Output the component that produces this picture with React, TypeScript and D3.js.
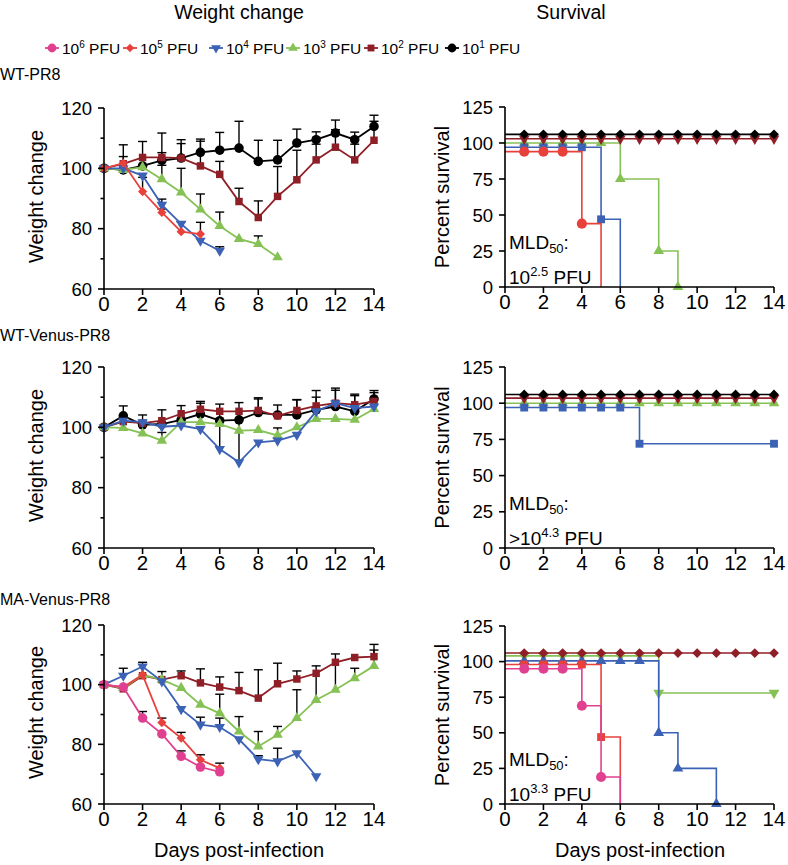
import React from 'react';
import * as d3 from 'd3';

const FONT = '"Liberation Sans", Arial, Helvetica, sans-serif';

// doses as powers of ten (PFU)
const doseExp = [6, 5, 4, 3, 2, 1];
const doseColor: Record<number, string> = {
  6: '#e0408f', 5: '#e8413c', 4: '#3b62b5', 3: '#86c155', 2: '#8f1f26', 1: '#000000',
};
const weightShape: Record<number, string> = {
  6: 'circle', 5: 'diamond', 4: 'down', 3: 'up', 2: 'square', 1: 'circle',
};

const rowNames = ['WT-PR8', 'WT-Venus-PR8', 'MA-Venus-PR8'];
const mldPrefix = ['', '>', ''];
const mldExp = ['2.5', '4.3', '3.3'];

const weightTicks = [60, 80, 100, 120];
const weightMinor = [70, 90, 110];
const survTicks = [0, 25, 50, 75, 100, 125];
const dayTicks = [0, 2, 4, 6, 8, 10, 12, 14];

// ---- weight change (% of day 0), index = day ----
// WT-PR8
const pr8W1 = [100, 99.5, 100.8, 102.6, 103.4, 105.3, 106, 106.7, 102.3, 102.8, 108.4, 109.5, 111.7, 109.5, 113.9];
const pr8W1Err = [null, 107.8, 108.9, 111.7, 109.5, 109.7, 111.9, 115.6, 109.3, 109.3, 113, 112.1, 116, 112, 117.6];
const pr8W2 = [100, 101.5, 103.6, 103.6, 103.4, 100.8, 98, 89, 83.7, 90.7, 96.2, 102.8, 107, 102.8, 109.3];
const pr8W2Err = [null, 103.9, null, 105.2, 108.2, 109, 102.3, 93.4, 89.2, 100.6, 106, 108, 112.8, 108, 115.6];
const pr8W3 = [100, 99.5, 100.4, 96.4, 92, 86.4, 80.9, 76.6, 74.9, 70.5];
const pr8W3Err = [null, null, null, 101, 100, 91.5, 85.5, null, 77.6, null];
const pr8W4 = [100, 100, 97.6, 87.9, 81.6, 76, 72.7];
const pr8W4Err = [null, null, null, 89.8, 82.3, null, 74];
const pr8W5 = [100, 101.7, 92.3, 85.4, 79, 78.2];
const pr8W5Err = [null, null, 97, 86.5, null, 82.1];

// WT-Venus-PR8
const venW1 = [100, 103.8, 100.8, 101.1, 102.5, 104.4, 102.2, 102.5, 104.9, 104.1, 104.1, 105.8, 106.9, 105.3, 109.4];
const venW1Err = [null, 107.1, 104.1, 105.8, 107.2, 108.6, 107.7, 108.2, 109.4, 107.4, 109.1, 112.2, 113, 111, 112.2];
const venW2 = [100, 101.9, 101.4, 102.2, 104.5, 106, 105.3, 105.3, 105.6, 103.8, 105.6, 107.1, 108, 107.5, 108.6];
const venW2Err = [null, null, null, null, null, 108, null, null, 109.8, null, 109.2, 110, 112.3, 110.5, 111.5];
const venW3 = [100, 99.8, 98, 95.6, 101.7, 101.7, 101.1, 98.9, 99.1, 97.3, 100, 102.8, 102.8, 102.5, 106.1];
const venW3Err = [null, null, null, 98.3, null, null, null, null, null, null, null, null, null, null, null];
const venW4 = [100, 102.2, 101.7, 100.2, 100.6, 99.4, 92.8, 88.4, 95, 95.6, 97.5, 105.3, 108, 106.4, 106.9];
const venW4Err = [null, null, null, null, null, null, 102, 102.5, null, 99.8, null, null, null, null, null];

// MA-Venus-PR8
const maW2 = [100, 98.6, 103, 101.7, 103, 100.6, 99.2, 98, 95.5, 100.3, 101.9, 103.8, 107.5, 109.1, 109.4];
const maW2Err = [null, null, null, 104.4, 104.6, 105.3, 102.6, 104.1, 105, 107.2, 104.6, null, null, null, 113.5];
const maW3 = [100, 98.9, 103.3, 101.7, 98.9, 93.3, 90.4, 84.3, 79.3, 83.2, 88.8, 94.9, 98.3, 102.2, 106.3];
const maW3Err = [null, null, null, null, null, null, 96.8, 89.3, 84.3, 86, 98.3, 106.3, 110.3, 105.5, 111.6];
const maW4 = [100, 103, 106.1, 101.1, 91.8, 86.6, 85.8, 81.7, 75, 74.3, 77, 69.3];
const maW4Err = [null, 105.5, 107.5, null, null, 89.1, 88.8, null, 76.2, 78.7, null, null];
const maW5 = [100, 99.2, 103.3, 87.3, 82.1, 74.8, 72];
const maW5Err = [null, null, null, 88.8, 84, 76.5, 73.7];
const maW6 = [100, 99.2, 88.8, 83.5, 76, 72.4, 70.8];
const maW6Err = [null, null, 91, null, 77.8, null, null];

// ---- survival (%, staggered as plotted), t = day of each point ----
const allDays = [1, 2, 3, 4, 5, 6, 7, 8, 9, 10, 11, 12, 13, 14];
const pr8S1 = [106, 106, 106, 106, 106, 106, 106, 106, 106, 106, 106, 106, 106, 106];
const pr8S2 = [103, 103, 103, 103, 103, 103, 103, 103, 103, 103, 103, 103, 103, 103];
const pr8S3T = [1, 2, 3, 4, 5, 6, 8, 9];
const pr8S3 = [100, 100, 100, 100, 100, 75, 25, 0];
const pr8S4T = [1, 2, 3, 4, 5, 6];
const pr8S4 = [97, 97, 97, 97, 47, 0];
const pr8S5T = [1, 2, 3, 4, 5];
const pr8S5 = [94, 94, 94, 44, 0];

const venS1 = [106, 106, 106, 106, 106, 106, 106, 106, 106, 106, 106, 106, 106, 106];
const venS2 = [103.5, 103.5, 103.5, 103.5, 103.5, 103.5, 103.5, 103.5, 103.5, 103.5, 103.5, 103.5, 103.5, 103.5];
const venS3 = [100, 100, 100, 100, 100, 100, 100, 100, 100, 100, 100, 100, 100, 100];
const venS4T = [1, 2, 3, 4, 5, 6, 7, 14];
const venS4 = [97, 97, 97, 97, 97, 97, 72, 72];

const maS2 = [106, 106, 106, 106, 106, 106, 106, 106, 106, 106, 106, 106, 106, 106];
const maS3T = [1, 2, 3, 4, 5, 6, 7, 8, 14];
const maS3 = [104, 104, 104, 104, 104, 104, 104, 78, 78];
const maS4T = [1, 2, 3, 4, 5, 6, 7, 8, 9, 11];
const maS4 = [100.5, 100.5, 100.5, 100.5, 100.5, 100.5, 100.5, 50, 25, 0];
const maS5T = [1, 2, 3, 4, 5, 6];
const maS5 = [98, 98, 98, 98, 47, 0];
const maS6T = [1, 2, 3, 4, 5, 6];
const maS6 = [95, 95, 95, 69, 19, 0];

type WSeries = { dose: number; y: number[]; err: (number | null)[] };
type SSeries = { dose: number; t: number[]; s: number[]; hide: number[] };

// drawing order: first drawn = bottom
const weightRows: WSeries[][] = [
  [
    { dose: 1, y: pr8W1, err: pr8W1Err },
    { dose: 2, y: pr8W2, err: pr8W2Err },
    { dose: 3, y: pr8W3, err: pr8W3Err },
    { dose: 4, y: pr8W4, err: pr8W4Err },
    { dose: 5, y: pr8W5, err: pr8W5Err },
  ],
  [
    { dose: 1, y: venW1, err: venW1Err },
    { dose: 2, y: venW2, err: venW2Err },
    { dose: 3, y: venW3, err: venW3Err },
    { dose: 4, y: venW4, err: venW4Err },
  ],
  [
    { dose: 2, y: maW2, err: maW2Err },
    { dose: 3, y: maW3, err: maW3Err },
    { dose: 4, y: maW4, err: maW4Err },
    { dose: 5, y: maW5, err: maW5Err },
    { dose: 6, y: maW6, err: maW6Err },
  ],
];

const survRows: SSeries[][] = [
  [
    { dose: 3, t: pr8S3T, s: pr8S3, hide: [] },
    { dose: 4, t: pr8S4T, s: pr8S4, hide: [6] },
    { dose: 5, t: pr8S5T, s: pr8S5, hide: [5] },
    { dose: 2, t: allDays, s: pr8S2, hide: [] },
    { dose: 1, t: allDays, s: pr8S1, hide: [] },
  ],
  [
    { dose: 3, t: allDays, s: venS3, hide: [] },
    { dose: 4, t: venS4T, s: venS4, hide: [] },
    { dose: 2, t: allDays, s: venS2, hide: [] },
    { dose: 1, t: allDays, s: venS1, hide: [] },
  ],
  [
    { dose: 3, t: maS3T, s: maS3, hide: [] },
    { dose: 4, t: maS4T, s: maS4, hide: [] },
    { dose: 5, t: maS5T, s: maS5, hide: [6] },
    { dose: 6, t: maS6T, s: maS6, hide: [6] },
    { dose: 2, t: allDays, s: maS2, hide: [] },
  ],
];

const survShape: Record<number, string>[] = [
  { 1: 'diamond', 2: 'down', 3: 'up', 4: 'square', 5: 'circle' },
  { 1: 'diamond', 2: 'down', 3: 'up', 4: 'square' },
  { 2: 'diamond', 3: 'down', 4: 'up', 5: 'square', 6: 'circle' },
];

// layout
const WX = [104, 374];
const SX = [505, 774];
const wRows = [[108, 289], [367, 548], [625, 804]];
const sRows = [[107, 287], [367, 548], [626, 804]];
const rowLabelY = [80, 341, 605];

const wSizes: Record<string, number> = { circle: 72, square: 56, diamond: 42, up: 48, down: 48 };
const sSizes: Record<string, number> = { circle: 80, square: 62, diamond: 48, up: 50, down: 50 };

function Marker({ shape, x, y, color, size }: { shape: string; x: number; y: number; color: string; size: number }) {
  const type = shape === 'circle' ? d3.symbolCircle
    : shape === 'square' || shape === 'diamond' ? d3.symbolSquare
    : d3.symbolTriangle;
  const rot = shape === 'diamond' ? 45 : shape === 'down' ? 180 : 0;
  const d = d3.symbol().type(type).size(size)() as string;
  return <path d={d} transform={`translate(${x},${y}) rotate(${rot})`} fill={color} />;
}

function Axes({ x, y, yTicks, yMinor }: any) {
  const [x0, x1] = x.range();
  const [yb, yt] = y.range();
  return (
    <g>
      <g stroke="#000" strokeWidth={1.6} fill="none">
        <path d={`M${x0},${yt}V${yb}H${x1}`} />
        {yTicks.map((t: number) => <line key={'y' + t} x1={x0 - 6} x2={x0} y1={y(t)} y2={y(t)} />)}
        {yMinor.map((t: number) => <line key={'m' + t} x1={x0 - 3.5} x2={x0} y1={y(t)} y2={y(t)} />)}
        {dayTicks.map((t) => <line key={'x' + t} x1={x(t)} x2={x(t)} y1={yb} y2={yb + 6} />)}
      </g>
      <g fontFamily={FONT} fill="#000">
        {yTicks.map((t: number) => (
          <text key={'yl' + t} x={x0 - 12} y={y(t)} dy="0.36em" textAnchor="end" fontSize={18.5}>{t}</text>
        ))}
        {dayTicks.map((t) => (
          <text key={'xl' + t} x={x(t)} y={yb + 22} textAnchor="middle" fontSize={20.5}>{t}</text>
        ))}
      </g>
    </g>
  );
}

function WeightPanel({ row }: { row: number }) {
  const [top, bottom] = wRows[row];
  const x = d3.scaleLinear().domain([0, 14]).range(WX);
  const y = d3.scaleLinear().domain([60, 120]).range([bottom, top]);
  const line = d3.line<number>().x((_, i) => x(i)).y((d) => y(d));
  const series = weightRows[row];
  return (
    <g>
      <g stroke="#000" strokeWidth={1.4}>
        {series.map((s) => s.err.map((e, i) => e == null ? null : (
          <g key={s.dose + '-' + i}>
            <line x1={x(i)} x2={x(i)} y1={y(s.y[i])} y2={y(e)} />
            <line x1={x(i) - 4.5} x2={x(i) + 4.5} y1={y(e)} y2={y(e)} />
          </g>
        )))}
      </g>
      {series.map((s) => (
        <g key={s.dose}>
          <path d={line(s.y) as string} fill="none" stroke={doseColor[s.dose]} strokeWidth={1.8} />
          {s.y.map((v, i) => (
            <Marker key={i} shape={weightShape[s.dose]} x={x(i)} y={y(v)} color={doseColor[s.dose]} size={wSizes[weightShape[s.dose]]} />
          ))}
        </g>
      ))}
      <Axes x={x} y={y} yTicks={weightTicks} yMinor={weightMinor} />
      <text x={43} y={(top + bottom) / 2 - 2} transform={`rotate(-90, 43, ${(top + bottom) / 2 - 2})`}
        textAnchor="middle" fontFamily={FONT} fontSize={20}>Weight change</text>
    </g>
  );
}

function SurvivalPanel({ row }: { row: number }) {
  const [top, bottom] = sRows[row];
  const x = d3.scaleLinear().domain([0, 14]).range(SX);
  const y = d3.scaleLinear().domain([0, 125]).range([bottom, top]);
  const step = d3.line<[number, number]>().x((d) => x(d[0])).y((d) => y(d[1])).curve(d3.curveStepAfter);
  const series = survRows[row];
  const shapes = survShape[row];
  return (
    <g>
      {series.map((s) => {
        const pts: [number, number][] = [[0, s.s[0]], ...s.t.map((t, i) => [t, s.s[i]] as [number, number])];
        return (
          <g key={s.dose}>
            <path d={step(pts) as string} fill="none" stroke={doseColor[s.dose]} strokeWidth={1.6} />
            {s.t.map((t, i) => s.hide.includes(t) ? null : (
              <Marker key={i} shape={shapes[s.dose]} x={x(t)} y={y(s.s[i])} color={doseColor[s.dose]} size={sSizes[shapes[s.dose]]} />
            ))}
          </g>
        );
      })}
      <Axes x={x} y={y} yTicks={survTicks} yMinor={[]} />
      <text x={449} y={(top + bottom) / 2} transform={`rotate(-90, 449, ${(top + bottom) / 2})`}
        textAnchor="middle" fontFamily={FONT} fontSize={20}>Percent survival</text>
      <g fontFamily={FONT} fontSize={19}>
        <text x={509} y={bottom - 38}>MLD<tspan fontSize={13} dy={4}>50</tspan><tspan dy={-4}>:</tspan></text>
        <text x={509} y={bottom - 3}>{mldPrefix[row]}10<tspan fontSize={13} dy={-8}>{mldExp[row]}</tspan><tspan dy={8}>{' PFU'}</tspan></text>
      </g>
    </g>
  );
}

function Legend() {
  const cx = [52, 130, 216, 293, 371, 452];
  const ly = 48;
  return (
    <g fontFamily={FONT} fontSize={15.5}>
      {doseExp.map((e, i) => (
        <g key={e}>
          <line x1={cx[i] - 7} x2={cx[i] + 7} y1={ly} y2={ly} stroke={doseColor[e]} strokeWidth={1.8} />
          <Marker shape={weightShape[e]} x={cx[i]} y={ly} color={doseColor[e]} size={wSizes[weightShape[e]] * 0.85} />
          <text x={cx[i] + 10} y={ly + 6}>10<tspan fontSize={10} dy={-6}>{e}</tspan><tspan dy={6}>{' PFU'}</tspan></text>
        </g>
      ))}
    </g>
  );
}

export default function App() {
  return (
    <svg width={788} height={865} style={{ position: 'absolute', left: 0, top: 0, background: '#fff' }}>
      <g fontFamily={FONT} fontSize={19.5} textAnchor="middle">
        <text x={239} y={19}>Weight change</text>
        <text x={571} y={19}>Survival</text>
      </g>
      <Legend />
      {rowNames.map((n, r) => (
        <g key={n}>
          <text x={0} y={rowLabelY[r]} fontFamily={FONT} fontSize={16}>{n}</text>
          <WeightPanel row={r} />
          <SurvivalPanel row={r} />
        </g>
      ))}
      <g fontFamily={FONT} fontSize={20} textAnchor="middle">
        <text x={239} y={857}>Days post-infection</text>
        <text x={640} y={857}>Days post-infection</text>
      </g>
    </svg>
  );
}
